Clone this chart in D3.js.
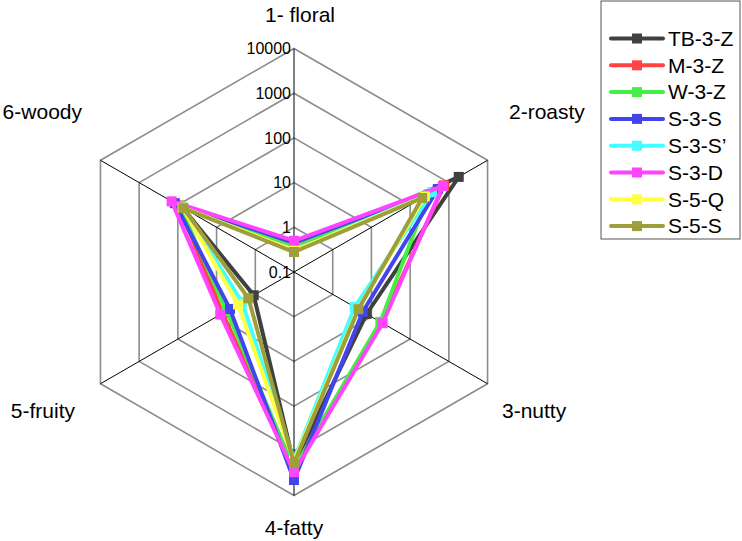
<!DOCTYPE html>
<html>
<head>
<meta charset="utf-8">
<script src="https://cdn.jsdelivr.net/npm/d3@7"></script>
<style>
  body { margin: 0; background: #fff; }
  text { font-family: Arial, "Liberation Sans", sans-serif; fill: #000; }
</style>
</head>
<body>
<div id="chart"></div>
<script>
// axes (categories) and tick levels
var axes = ["1- floral", "2-roasty", "3-nutty", "4-fatty", "5-fruity", "6-woody"];
var ticks = [0.1, 1, 10, 100, 1000, 10000];
var tickLabels = ["0.1", "1", "10", "100", "1000", "10000"];

// series values, one per axis in the order above
var seriesNames = ["TB-3-Z", "M-3-Z", "W-3-Z", "S-3-S", "S-3-S\u2019", "S-3-D", "S-5-Q", "S-5-S"];
var tb3z  = [0.30, 1800, 7.5, 2000, 1.1, 75];
var m3z   = [0.40, 750, 18, 2700, 7, 95];
var w3z   = [0.40, 300, 17, 2500, 5.5, 90];
var s3s   = [0.45, 520, 6, 4500, 4.5, 120];
var s3s2  = [0.30, 370, 3.7, 1600, 2.2, 75];
var s3d   = [0.50, 700, 19.5, 3000, 8, 145];
var s5q   = [0.30, 240, 4.5, 1700, 2.8, 75];
var s5s   = [0.28, 205, 4.6, 1900, 1.5, 72];
var seriesValues = [tb3z, m3z, w3z, s3s, s3s2, s3d, s5q, s5s];
var colors = ["#404040", "#ff4444", "#44ee44", "#4444ee", "#44ffff", "#ff44ff", "#ffff44", "#9e9e3a"];

var width = 742, height = 541;
var cx = 294, cy = 272, R = 223.5;

var svg = d3.select("#chart").append("svg")
  .attr("width", width)
  .attr("height", height);

var r = d3.scaleLog().domain([0.1, 10000]).range([0, R]);

function angle(i) { return -Math.PI / 2 + i * 2 * Math.PI / axes.length; }
function pt(i, v) {
  return [cx + r(v) * Math.cos(angle(i)), cy + r(v) * Math.sin(angle(i))];
}

// hexagon grid
var g = svg.append("g");
ticks.slice(1).forEach(function (t) {
  g.append("polygon")
    .attr("points", axes.map(function (a, i) { return pt(i, t).join(","); }).join(" "))
    .attr("fill", "none")
    .attr("stroke", "#8c8c8c")
    .attr("stroke-width", 1.6);
});

// spokes
axes.forEach(function (a, i) {
  var p = pt(i, 10000);
  g.append("line")
    .attr("x1", cx).attr("y1", cy)
    .attr("x2", p[0]).attr("y2", p[1])
    .attr("stroke", "#000")
    .attr("stroke-width", 1);
});

// tick labels on the top spoke
g.selectAll(".tick")
  .data(ticks)
  .enter().append("text")
  .attr("class", "tick")
  .attr("x", cx - 3)
  .attr("y", function (d) { return cy - r(d); })
  .attr("dy", "0.35em")
  .style("text-anchor", "end")
  .style("font-size", "16px")
  .text(function (d, i) { return tickLabels[i]; });

// category labels
var labelPos = [
  { x: 300, y: 22, anchor: "middle" },
  { x: 509, y: 119, anchor: "start" },
  { x: 502, y: 418, anchor: "start" },
  { x: 294, y: 535, anchor: "middle" },
  { x: 75, y: 418, anchor: "end" },
  { x: 82, y: 119, anchor: "end" }
];
svg.selectAll(".cat")
  .data(axes)
  .enter().append("text")
  .attr("class", "cat")
  .attr("x", function (d, i) { return labelPos[i].x; })
  .attr("y", function (d, i) { return labelPos[i].y; })
  .style("text-anchor", function (d, i) { return labelPos[i].anchor; })
  .style("font-size", "21px")
  .text(function (d) { return d; });

// series
var line = d3.line().curve(d3.curveLinearClosed);
seriesValues.forEach(function (vals, s) {
  var pts = vals.map(function (v, i) { return pt(i, v); });
  var sg = svg.append("g");
  sg.append("path")
    .attr("d", line(pts))
    .attr("fill", "none")
    .attr("stroke", colors[s])
    .attr("stroke-width", 4)
    .attr("stroke-linejoin", "miter");
  sg.selectAll("rect")
    .data(pts)
    .enter().append("rect")
    .attr("x", function (d) { return d[0] - 5; })
    .attr("y", function (d) { return d[1] - 5; })
    .attr("width", 10)
    .attr("height", 10)
    .attr("fill", colors[s]);
});

// legend
var lg = svg.append("g");
lg.append("rect")
  .attr("x", 601).attr("y", 1)
  .attr("width", 139).attr("height", 238)
  .attr("fill", "#fff")
  .attr("stroke", "#555")
  .attr("stroke-width", 1);
seriesNames.forEach(function (name, s) {
  var y = 38.5 + s * 26.8;
  lg.append("line")
    .attr("x1", 611).attr("x2", 663)
    .attr("y1", y).attr("y2", y)
    .attr("stroke", colors[s])
    .attr("stroke-width", 4)
    .attr("stroke-linecap", "round");
  lg.append("rect")
    .attr("x", 632).attr("y", y - 5)
    .attr("width", 10).attr("height", 10)
    .attr("fill", colors[s]);
  lg.append("text")
    .attr("x", 668).attr("y", y)
    .attr("dy", "0.35em")
    .style("font-size", "21px")
    .text(name);
});
</script>
</body>
</html>
